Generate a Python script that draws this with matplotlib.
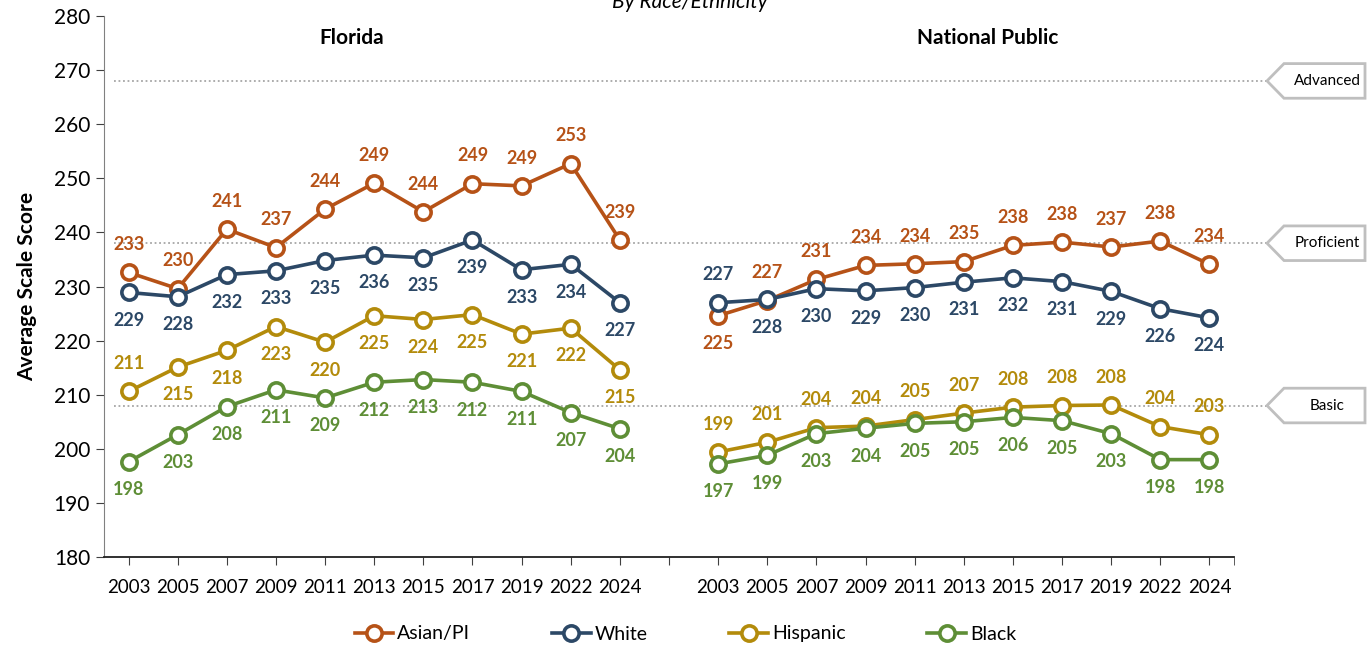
import matplotlib.pyplot as plt
from matplotlib.patches import Polygon
from matplotlib.transforms import blended_transform_factory

plt.rcParams['font.family'] = ['Lato', 'DejaVu Sans']

# data
years = ['2003', '2005', '2007', '2009', '2011', '2013', '2015', '2017', '2019', '2022', '2024']

fl_asian = [232.6, 229.6, 240.6, 237.2, 244.3, 249.1, 243.8, 249.0, 248.6, 252.7, 238.6]
fl_white = [228.9, 228.1, 232.2, 232.9, 234.8, 235.8, 235.3, 238.6, 233.1, 234.1, 227.0]
fl_hisp = [210.6, 215.1, 218.2, 222.6, 219.7, 224.6, 223.9, 224.8, 221.2, 222.3, 214.6]
fl_black = [197.6, 202.6, 207.8, 210.9, 209.4, 212.3, 212.8, 212.3, 210.6, 206.7, 203.7]

np_asian = [224.6, 227.4, 231.3, 233.9, 234.2, 234.6, 237.6, 238.2, 237.3, 238.4, 234.1]
np_white = [227.0, 227.6, 229.6, 229.2, 229.8, 230.8, 231.6, 230.9, 229.1, 225.9, 224.2]
np_hisp = [199.4, 201.2, 203.9, 204.2, 205.4, 206.6, 207.7, 208.0, 208.1, 204.1, 202.6]
np_black = [197.2, 198.8, 202.8, 203.8, 204.7, 205.0, 205.8, 205.2, 202.8, 198.0, 198.0]

# label side: 1 above, -1 below
fl_asian_pos = [1] * 11
fl_white_pos = [-1] * 11
fl_hisp_pos = [1] + [-1] * 10
fl_black_pos = [-1] * 11
np_asian_pos = [-1] + [1] * 10
np_white_pos = [1] + [-1] * 10
np_hisp_pos = [1] * 11
np_black_pos = [-1] * 11

levels = [268, 238, 208]
level_names = ['Advanced', 'Proficient', 'Basic']

colors = {'Asian/PI': '#B65217', 'White': '#2C4866', 'Hispanic': '#B38B0B', 'Black': '#5E8E36'}

fig = plt.figure(figsize=(13.71, 6.49), dpi=100)
ax = fig.add_axes([104 / 1371, 1 - 557 / 649, 1130 / 1371, 541 / 649])

fl_x = list(range(11))
np_x = list(range(12, 23))

series = [
    ('Asian/PI', fl_asian, fl_asian_pos, np_asian, np_asian_pos),
    ('White', fl_white, fl_white_pos, np_white, np_white_pos),
    ('Hispanic', fl_hisp, fl_hisp_pos, np_hisp, np_hisp_pos),
    ('Black', fl_black, fl_black_pos, np_black, np_black_pos),
]

for name, fl, flp, nat, natp in series:
    c = colors[name]
    kw = dict(color=c, lw=2.6, marker='o', markersize=11, markerfacecolor='white',
              markeredgecolor=c, markeredgewidth=2.6, zorder=3)
    ax.plot(fl_x, fl, label=name, **kw)
    ax.plot(np_x, nat, **kw)
    for xs, vals, pos in ((fl_x, fl, flp), (np_x, nat, natp)):
        for x, v, p in zip(xs, vals, pos):
            ax.annotate(f'{round(v)}', (x, v), xytext=(0, 20 * p), textcoords='offset points',
                        ha='center', va='center', color=c, fontsize=13, fontweight='bold')

# proficiency reference lines
for lv in levels:
    ax.plot([-0.3, 23.2], [lv, lv], color='#A6A6A6', lw=1.3, ls=(0, (1, 1.5)),
            clip_on=False, zorder=1)

ax.set_xlim(-0.5, 22.5)
ax.set_ylim(180, 280)
ax.set_yticks(range(180, 281, 10))
ax.set_xticks(list(range(23)))
ax.set_xticklabels(years + [''] + years)
ax.set_xticks([22.5], minor=True)
ax.tick_params(axis='x', which='both', length=6, color='#404040', labelsize=13.5, pad=10)
ax.tick_params(axis='y', length=6, color='#404040', labelsize=15, pad=4)
for s in ['top', 'right']:
    ax.spines[s].set_visible(False)
ax.spines['left'].set_color('#808080')
ax.spines['bottom'].set_color('#202020')
ax.spines['bottom'].set_linewidth(1.3)
ax.set_ylabel('Average Scale Score', fontsize=15, fontweight='bold', labelpad=12)

ax.text(352 / 1371, 1 - 38 / 649, 'Florida', transform=fig.transFigure, ha='center',
        va='center', fontsize=15, fontweight='bold')
ax.text(988 / 1371, 1 - 38 / 649, 'National Public', transform=fig.transFigure, ha='center',
        va='center', fontsize=15, fontweight='bold')
fig.text(690 / 1371, 1 - 8 / 649, 'By Race/Ethnicity', ha='center', va='baseline',
         fontsize=15, fontstyle='italic')

# level tags on the right
tr = blended_transform_factory(fig.transFigure, ax.transData)
x0, x1, x2 = 1267 / 1371, 1284 / 1371, 1365 / 1371
h = 3.2
for lv, nm in zip(levels, level_names):
    poly = Polygon([(x0, lv), (x1, lv + h), (x2, lv + h), (x2, lv - h), (x1, lv - h)],
                   closed=True, transform=tr, facecolor='white', edgecolor='#BFBFBF',
                   lw=2, clip_on=False, zorder=4)
    fig.add_artist(poly)
    fig.text((x1 + x2) / 2 + 0.002, lv, nm, transform=tr, ha='center', va='center',
             fontsize=11, zorder=5)

fig.legend(loc='center', bbox_to_anchor=(0.5, 1 - 634 / 649), ncol=4, frameon=False,
           fontsize=14, handlelength=2.0, handletextpad=0.2, columnspacing=4.2)

fig.savefig('out.png', dpi=100)
